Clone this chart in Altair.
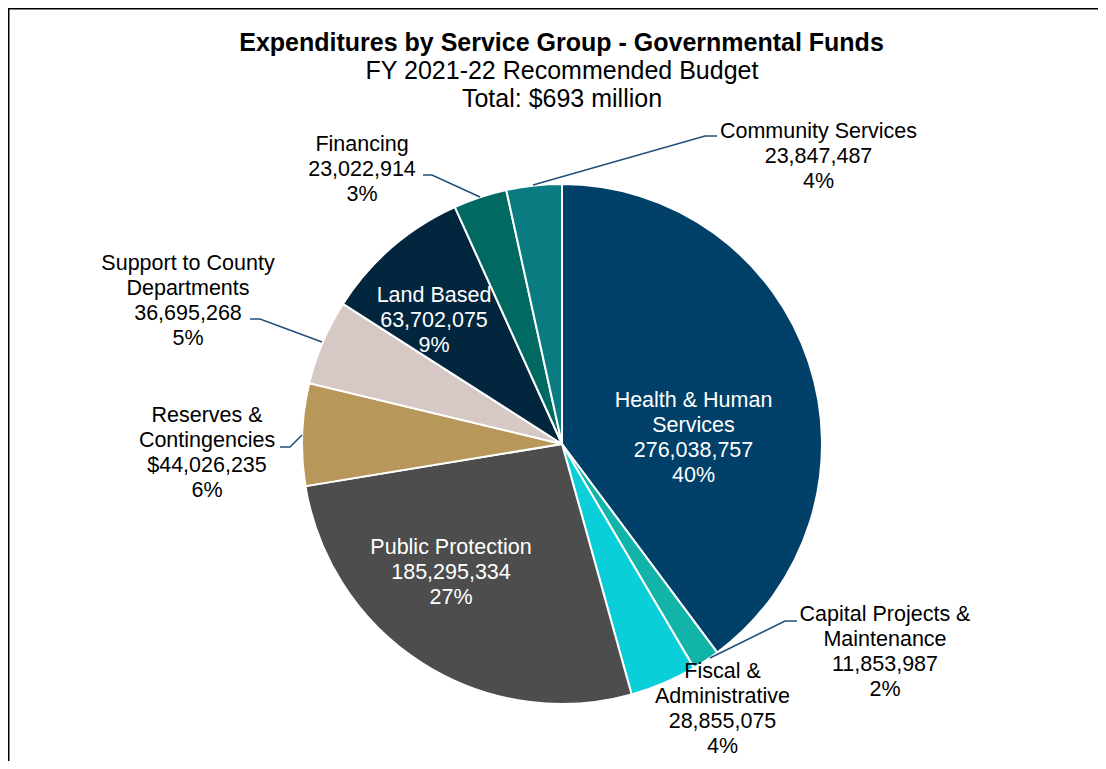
import altair as alt
import pandas as pd

# ---- data ----
categories = ["Health & Human Services", "Capital Projects & Maintenance", "Fiscal & Administrative",
              "Public Protection", "Reserves & Contingencies", "Support to County Departments",
              "Land Based", "Financing", "Community Services"]
amounts = [276038757, 11853987, 28855075, 185295334, 44026235, 36695268, 63702075, 23022914, 23847487]
amount_labels = ["276,038,757", "11,853,987", "28,855,075", "185,295,334", "$44,026,235",
                 "36,695,268", "63,702,075", "23,022,914", "23,847,487"]
percent_labels = ["40%", "2%", "4%", "27%", "6%", "5%", "9%", "3%", "4%"]
name_lines = [["Health & Human", "Services"], ["Capital Projects &", "Maintenance"],
              ["Fiscal &", "Administrative"], ["Public Protection"], ["Reserves &", "Contingencies"],
              ["Support to County", "Departments"], ["Land Based"], ["Financing"], ["Community Services"]]
title_text = "Expenditures by Service Group - Governmental Funds"
subtitle_lines = ["FY 2021-22 Recommended Budget", "Total: $693 million"]

# ---- styles / layout (annotation placement) ----
slice_colors = ["#014068", "#12B3A8", "#0BCFD8", "#4D4D4D", "#B8975A", "#D6C8C4", "#03263F", "#006A62", "#0A7B80"]
label_colors = ["white", "black", "black", "white", "black", "black", "white", "black", "black"]
label_x = [685.5, 877, 714.5, 443, 199, 180, 426, 354, 810.5]
label_mid_y = [391, 605, 662.5, 538, 406, 254, 286.5, 135.5, 122]
leader_x = [[525, 697, 709], [415, 424, 472], [242, 252, 314], [272, 282, 294], [702, 777, 789]]
leader_y = [[177, 128, 128], [167, 167, 189], [311, 311, 334], [439, 439, 427], [650, 613, 613]]

CX, CY, R = 554, 436, 260
W, H = 1090, 753
FONT = "Liberation Sans"
LS = 21.5
LH = 25

pie_df = pd.DataFrame({"category": categories, "amount": amounts, "idx": list(range(len(categories)))})
one_df = pd.DataFrame({"k": [0]})

lab_df = pd.DataFrame({
    "label": ["\n".join(n + [a, p]) for n, a, p in zip(name_lines, amount_labels, percent_labels)],
    "x": label_x,
    "y": [v - 9.5 for v in label_mid_y],
    "tc": label_colors,
})

rows = []
for i, (xs, ys) in enumerate(zip(leader_x, leader_y)):
    for j, (xx, yy) in enumerate(zip(xs, ys)):
        rows.append({"lid": i, "step": j, "x": xx, "y": yy})
lead_df = pd.DataFrame(rows)

pie = alt.Chart(pie_df).mark_arc(outerRadius=R, stroke="white", strokeWidth=2).encode(
    theta=alt.Theta("amount:Q", stack=True),
    order=alt.Order("idx:Q"),
    color=alt.Color("category:N", scale=alt.Scale(domain=categories, range=slice_colors), legend=None),
    x=alt.value(CX), y=alt.value(CY),
)

labels = alt.Chart(lab_df).mark_text(font=FONT, fontSize=LS, lineHeight=LH, lineBreak="\n",
                                     align="center", baseline="top").encode(
    x=alt.X("x:Q", scale=None), y=alt.Y("y:Q", scale=None),
    text="label:N", color=alt.Color("tc:N", scale=None),
)

leaders = alt.Chart(lead_df).mark_line(color="#1F4E79", strokeWidth=1.5).encode(
    x=alt.X("x:Q", scale=None), y=alt.Y("y:Q", scale=None),
    detail="lid:N", order="step:Q",
)

title1 = alt.Chart(one_df).mark_text(font=FONT, fontSize=25, fontWeight="bold", color="black",
                                     align="center", baseline="middle").encode(
    x=alt.value(553.5), y=alt.value(35), text=alt.value(title_text))
title2 = alt.Chart(one_df).mark_text(font=FONT, fontSize=25, color="black",
                                     align="center", baseline="middle").encode(
    x=alt.value(554), y=alt.value(63), text=alt.value(subtitle_lines[0]))
title3 = alt.Chart(one_df).mark_text(font=FONT, fontSize=25, color="black",
                                     align="center", baseline="middle").encode(
    x=alt.value(554), y=alt.value(91), text=alt.value(subtitle_lines[1]))

frame_top = alt.Chart(one_df).mark_rule(color="black", strokeWidth=2).encode(
    x=alt.value(0), x2=alt.value(W), y=alt.value(0.5))
frame_left = alt.Chart(one_df).mark_rule(color="black", strokeWidth=2).encode(
    x=alt.value(0.5), y=alt.value(0), y2=alt.value(H))

chart = alt.layer(pie, leaders, labels, title1, title2, title3, frame_top, frame_left).properties(
    width=W, height=H, autosize=alt.AutoSizeParams(type="none"), padding=0,
).configure_view(stroke=None)

chart.save("out.html", embed_options={"renderer": "svg", "actions": False})
